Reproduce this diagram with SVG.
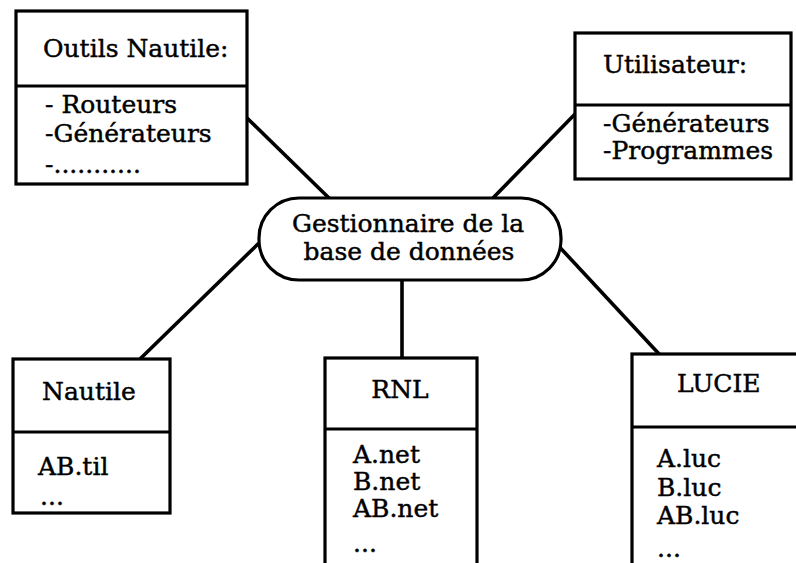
<svg xmlns="http://www.w3.org/2000/svg" width="796" height="563" viewBox="0 0 796 563">
<style>
.box{fill:#fff;stroke:#000;stroke-width:3.2}
.div{stroke:#000;stroke-width:3}
.conn{stroke:#000;stroke-width:3.6;fill:none}
text{font-family:"DejaVu Serif","Liberation Serif",serif;font-size:25px;fill:#000;stroke:#000;stroke-width:0.45}
.mid{text-anchor:middle}
</style>
<rect width="796" height="563" fill="#fff"/>
<g id="connectors">
<line class="conn" x1="247" y1="118" x2="330" y2="199"/>
<line class="conn" x1="577" y1="112" x2="492" y2="199"/>
<line class="conn" x1="259" y1="243" x2="140" y2="359"/>
<line class="conn" x1="402" y1="279" x2="402" y2="358"/>
<line class="conn" x1="553" y1="240" x2="660" y2="355"/>
</g>
<g id="outils">
<rect class="box" x="16" y="11" width="231" height="173"/>
<line class="div" x1="16" y1="86" x2="247" y2="86"/>
<text x="43" y="57" font-size="26">Outils Nautile:</text>
<text x="45" y="113">- Routeurs</text>
<text x="45" y="142">-Générateurs</text>
<text x="45" y="173">-...........</text>
</g>
<g id="utilisateur">
<rect class="box" x="575" y="33" width="216" height="146"/>
<line class="div" x1="575" y1="105" x2="791" y2="105"/>
<text x="603" y="73">Utilisateur:</text>
<text x="603" y="132">-Générateurs</text>
<text x="603" y="159">-Programmes</text>
</g>
<g id="gestionnaire">
<rect class="box" x="259" y="198" width="302" height="82" rx="40" ry="40"/>
<text class="mid" x="408" y="232" font-size="25.5">Gestionnaire de la</text>
<text class="mid" x="409" y="260" font-size="25.5">base de données</text>
</g>
<g id="nautile">
<rect class="box" x="13" y="359" width="157" height="154"/>
<line class="div" x1="13" y1="432" x2="170" y2="432"/>
<text x="42" y="400">Nautile</text>
<text x="38" y="475">AB.til</text>
<text x="40" y="505">...</text>
</g>
<g id="rnl">
<rect class="box" x="325" y="358" width="152" height="220"/>
<line class="div" x1="325" y1="429" x2="477" y2="429"/>
<text class="mid" x="400" y="398">RNL</text>
<text x="353" y="463">A.net</text>
<text x="353" y="490">B.net</text>
<text x="353" y="517">AB.net</text>
<text x="353" y="552">...</text>
</g>
<g id="lucie">
<rect class="box" x="632" y="354" width="200" height="230"/>
<line class="div" x1="632" y1="427" x2="800" y2="427"/>
<text x="677" y="392">LUCIE</text>
<text x="657" y="467">A.luc</text>
<text x="657" y="496">B.luc</text>
<text x="657" y="524">AB.luc</text>
<text x="657" y="557">...</text>
</g>
</svg>
